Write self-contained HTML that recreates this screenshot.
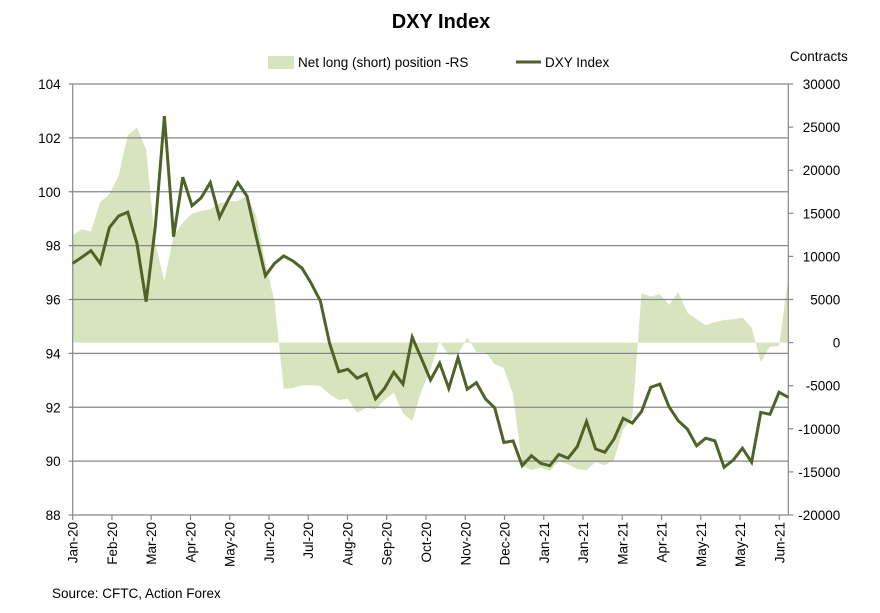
<!DOCTYPE html>
<html><head><meta charset="utf-8"><style>
body{margin:0;background:#fff;font-family:"Liberation Sans",Arial,sans-serif;}
svg{display:block}
</style></head><body>
<svg width="880" height="613" viewBox="0 0 880 613" id="chart">
<text x="441" y="28" text-anchor="middle" font-size="20" font-weight="bold" fill="#000">DXY Index</text>
<g>
<rect x="268" y="56" width="26" height="13" fill="#d7e4bd"/>
<text x="298" y="67" font-size="13.5">Net long (short) position -RS</text>
<line x1="516" y1="62" x2="541" y2="62" stroke="#4f6228" stroke-width="3"/>
<text x="545" y="67" font-size="13.5">DXY Index</text>
</g>
<text x="790" y="61" font-size="13.5">Contracts</text>
<text x="52" y="598" font-size="13.5">Source: CFTC, Action Forex</text>
<g id="plot"></g>
</svg>
<script>
const dxy=[97.34,97.57,97.81,97.34,98.67,99.10,99.24,98.09,95.92,98.70,102.81,98.33,100.54,99.48,99.77,100.34,99.05,99.73,100.34,99.84,98.33,96.88,97.34,97.62,97.43,97.16,96.60,95.94,94.37,93.32,93.41,93.08,93.24,92.31,92.70,93.30,92.86,94.60,93.82,93.01,93.63,92.70,93.84,92.67,92.91,92.31,91.98,90.69,90.75,89.83,90.20,89.92,89.83,90.25,90.11,90.54,91.47,90.45,90.33,90.82,91.59,91.41,91.84,92.74,92.86,92.02,91.50,91.19,90.57,90.85,90.75,89.77,90.04,90.48,89.96,91.81,91.74,92.56,92.37];
const netPos=[12447,13143,12876,16310,17203,19326,24047,24940,22423,11500,7146,12365,13920,14964,15266,15463,16159,16356,16426,17006,14686,9280,4826,-5336,-5266,-4953,-4953,-5034,-5997,-6658,-6496,-8120,-7540,-7737,-6658,-5800,-8201,-9094,-5614,-3097,186,-1473,-1357,580,-1090,-1090,-2517,-2946,-5997,-14310,-14778,-14500,-14894,-13734,-14117,-14697,-14778,-13850,-14232,-13611,-10057,-8700,5719,5336,5603,4362,5870,3480,2703,2007,2390,2622,2703,2900,1740,-2250,-464,-390,7540];
const leftTicks=[88,90,92,94,96,98,100,102,104];
const rightTicks=[-20000,-15000,-10000,-5000,0,5000,10000,15000,20000,25000,30000];
const monthLabels=["Jan-20","Feb-20","Mar-20","Apr-20","May-20","Jun-20","Jul-20","Aug-20","Sep-20","Oct-20","Nov-20","Dec-20","Jan-21","Jan-21","Mar-21","Apr-21","May-21","May-21","Jun-21"];

const X0=72.7,X1=788.3,Y0=84,Y1=515;
const xi=i=>X0+(X1-X0)*i/(dxy.length-1);
const yL=v=>Y1-(v-88)/(104-88)*(Y1-Y0);
const yR=v=>Y1-(v+20000)/50000*(Y1-Y0);
const NS="http://www.w3.org/2000/svg";
const plot=document.getElementById('plot');
function mk(t,a){const e=document.createElementNS(NS,t);for(const k in a)e.setAttribute(k,a[k]);plot.appendChild(e);return e;}

let d=`M${xi(0)},${yR(0)}`;
netPos.forEach((v,i)=>{d+=` L${xi(i).toFixed(1)},${yR(v).toFixed(1)}`;});
d+=` L${xi(netPos.length-1)},${yR(0)} Z`;
const area=mk('path',{d:d,fill:'#d7e4bd'});



leftTicks.forEach(v=>{
  const g=mk('line',{x1:X0-4,x2:X1,y1:yL(v),y2:yL(v),stroke:'#888','stroke-width':1.2});
  
  
  const t=mk('text',{x:X0-12,y:yL(v)+5,'text-anchor':'end','font-size':13.5});
  t.textContent=v;
  
  
});
rightTicks.forEach(v=>{
  const g=mk('line',{x1:X1,x2:X1+5,y1:yR(v),y2:yR(v),stroke:'#888','stroke-width':1.2});
  
  
  const t=mk('text',{x:X1+52,y:yR(v)+5,'text-anchor':'end','font-size':13.5});
  t.textContent=v;
  
  
});
const la=mk('line',{x1:X0,x2:X0,y1:Y0,y2:Y1,stroke:'#888','stroke-width':1.2});


const ra=mk('line',{x1:X1,x2:X1,y1:Y0,y2:Y1,stroke:'#888','stroke-width':1.2});



const step=(779.3-X0)/(monthLabels.length-1);
monthLabels.forEach((m,i)=>{
  const x=X0+step*i;
  const tk=mk('line',{x1:x,x2:x,y1:Y1,y2:Y1+5,stroke:'#888','stroke-width':1.2});
  
  
  const t=mk('text',{x:0,y:0,'text-anchor':'end','font-size':13.5,transform:`translate(${x+5},${Y1+7}) rotate(-90)`});
  t.textContent=m;
  
  
});

const pts=dxy.map((v,i)=>`${xi(i).toFixed(1)},${yL(v).toFixed(1)}`).join(' ');
const ln=mk('polyline',{points:pts,fill:'none',stroke:'#4f6228','stroke-width':3,'stroke-linejoin':'miter'});


</script>
</body></html>
